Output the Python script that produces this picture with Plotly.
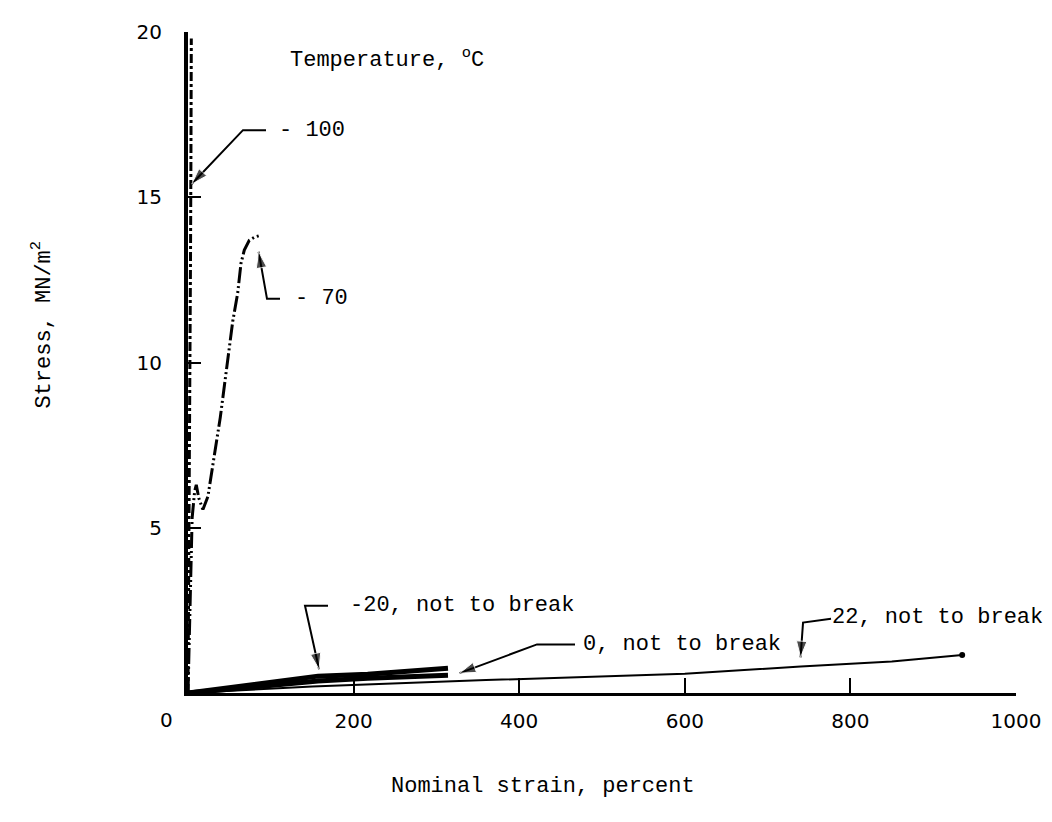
import plotly.graph_objects as go

# ---- data ----
strain_m100 = [0, 1.5, 2.5, 3.0, 3.5, 4.0, 4.0]
stress_m100 = [0, 5.0, 10.0, 13.0, 16.0, 18.5, 19.8]

strain_70 = [0, 3, 5, 8, 10, 13, 18, 24, 39, 54, 60, 64, 68, 74, 81, 88]
stress_70 = [0, 3.0, 5.3, 6.1, 6.3, 5.9, 5.55, 5.94, 8.34, 11.24, 12.1, 13.0, 13.4, 13.7, 13.8, 13.85]

strain_m20 = [0, 50, 88, 157, 217, 270, 314]
stress_m20 = [0, 0.17, 0.30, 0.51, 0.57, 0.66, 0.75]

strain_0 = [0, 50, 88, 157, 217, 270, 314]
stress_0 = [0, 0.12, 0.21, 0.36, 0.45, 0.50, 0.54]

strain_22 = [0, 150, 360, 600, 740, 850, 935]
stress_22 = [0, 0.20, 0.39, 0.58, 0.80, 0.95, 1.15]

x_ticks = [200, 400, 600, 800, 1000]
y_ticks = [5, 10, 15, 20]

MONO = "Liberation Mono"
TICKF = "DejaVu Sans"

fig = go.Figure()

fig.add_trace(go.Scatter(x=strain_m100, y=stress_m100, mode="lines",
                         line=dict(color="black", width=3, dash="dashdot"),
                         showlegend=False, hoverinfo="skip"))
fig.add_trace(go.Scatter(x=strain_70, y=stress_70, mode="lines",
                         line=dict(color="black", width=3, dash="16px,3px,2px,3px,2px,3px"),
                         showlegend=False, hoverinfo="skip"))
fig.add_trace(go.Scatter(x=strain_22, y=stress_22, mode="lines",
                         line=dict(color="black", width=2),
                         showlegend=False, hoverinfo="skip"))
fig.add_trace(go.Scatter(x=[strain_22[-1]], y=[stress_22[-1]], mode="markers",
                         marker=dict(color="black", size=6),
                         showlegend=False, hoverinfo="skip"))
fig.add_trace(go.Scatter(x=strain_m20, y=stress_m20, mode="lines",
                         line=dict(color="black", width=5),
                         showlegend=False, hoverinfo="skip"))
fig.add_trace(go.Scatter(x=strain_0, y=stress_0, mode="lines",
                         line=dict(color="black", width=5),
                         showlegend=False, hoverinfo="skip"))

annotations = []

def label(text, x, y):
    annotations.append(dict(x=x, y=y, xref="x", yref="y", text=text, showarrow=False,
                            xanchor="left", yanchor="middle", xshift=-3,
                            font=dict(family=MONO, size=22, color="black")))

def leader(xs, ys):
    # bent leader line ending in an arrow head
    fig.add_trace(go.Scatter(x=xs, y=ys, mode="lines+markers",
                             line=dict(color="black", width=2),
                             marker=dict(symbol="arrow", angleref="previous", color="black",
                                         size=[0] * (len(xs) - 1) + [17]),
                             showlegend=False, hoverinfo="skip"))

label("Temperature, <sup>o</sup>C", 124.4, 19.19)

label("- 100", 111.1, 17.03)
leader([94.2, 66.4, 4.5], [17.03, 17.03, 15.4])

label("- 70", 130.4, 11.93)
leader([111.1, 95.4, 85.3], [11.93, 11.93, 13.35])

label("-20, not to break", 196.9, 2.64)
leader([169.1, 141.3, 158.3], [2.64, 2.64, 0.72])

label("0, not to break", 478.3, 1.47)
leader([467.4, 421.5, 328], [1.47, 1.47, 0.60])

label("22, not to break", 779, 2.28)
leader([776.6, 742.8, 739.8], [2.25, 2.13, 1.08])

# origin label
annotations.append(dict(x=0, y=0, xref="x", yref="y", text="0", showarrow=False,
                        xshift=-22, yshift=-27, font=dict(family=TICKF, size=20, color="black")))

# axis titles
annotations.append(dict(x=-0.177, y=0.558, xref="paper", yref="paper",
                        xanchor="center", yanchor="middle",
                        text="Stress, MN/m<sup>2</sup>", textangle=-90, showarrow=False,
                        font=dict(family=MONO, size=22, color="black")))
annotations.append(dict(x=0.429, y=-0.142, xref="paper", yref="paper",
                        xanchor="center", yanchor="middle",
                        text="Nominal strain, percent", showarrow=False,
                        font=dict(family=MONO, size=22, color="black")))

fig.update_layout(
    width=1052, height=822,
    margin=dict(l=180, r=44, t=18, b=137),
    paper_bgcolor="white", plot_bgcolor="white",
    showlegend=False,
    annotations=annotations,
    xaxis=dict(range=[0, 1000], tickvals=x_ticks, ticks="inside", ticklen=15, tickwidth=2,
               tickcolor="black", showline=True, linecolor="black", linewidth=3,
               showgrid=False, zeroline=False, ticklabelstandoff=8,
               tickfont=dict(family=TICKF, size=20, color="black")),
    yaxis=dict(range=[0, 20], tickvals=y_ticks, ticks="inside", ticklen=13, tickwidth=2,
               tickcolor="black", showline=True, linecolor="black", linewidth=4,
               showgrid=False, zeroline=False, ticklabelstandoff=18,
               tickfont=dict(family=TICKF, size=20, color="black")),
)

fig.write_html("out.html")
